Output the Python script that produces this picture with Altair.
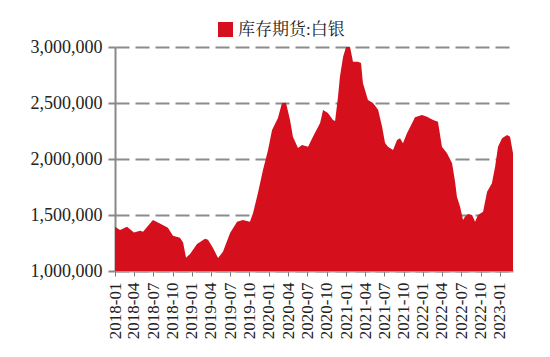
import altair as alt
import pandas as pd

dates = [
    "2018-01-01", "2018-01-25", "2018-02-27", "2018-04-01", "2018-04-30", "2018-05-14",
    "2018-06-30", "2018-08-02", "2018-09-09", "2018-10-03", "2018-11-05", "2018-11-20",
    "2018-12-04", "2018-12-23", "2019-01-25", "2019-03-04", "2019-03-18", "2019-04-11",
    "2019-05-05", "2019-05-28", "2019-07-01", "2019-08-03", "2019-08-31", "2019-10-03",
    "2019-10-18", "2019-11-10", "2019-12-04", "2019-12-28", "2020-01-16", "2020-02-13",
    "2020-03-03", "2020-03-22", "2020-04-10", "2020-04-24", "2020-05-18", "2020-06-06",
    "2020-07-05", "2020-07-28", "2020-08-31", "2020-09-14", "2020-10-07", "2020-10-31",
    "2020-11-10", "2020-11-24", "2020-12-03", "2020-12-18", "2021-01-01", "2021-01-20",
    "2021-02-03", "2021-02-27", "2021-03-13", "2021-03-22", "2021-04-15", "2021-05-09",
    "2021-06-02", "2021-06-21", "2021-07-05", "2021-07-19", "2021-08-12", "2021-08-31",
    "2021-09-14", "2021-09-28", "2021-10-17", "2021-11-10", "2021-11-24", "2021-12-27",
    "2022-01-20", "2022-02-18", "2022-03-13", "2022-04-01", "2022-04-25", "2022-05-19",
    "2022-06-02", "2022-06-11", "2022-06-26", "2022-07-10", "2022-07-19", "2022-08-03",
    "2022-08-22", "2022-09-05", "2022-09-19", "2022-10-13", "2022-11-01", "2022-11-24",
    "2022-12-09", "2022-12-23", "2023-01-11", "2023-02-04", "2023-02-18", "2023-03-04",
]
values = [
    1395000, 1365000, 1395000, 1344000, 1359000, 1350000,
    1455000, 1424000, 1386000, 1314000, 1296000, 1254000,
    1119000, 1152000, 1242000, 1287000, 1280000, 1205000,
    1116000, 1172000, 1339000, 1440000, 1455000, 1440000,
    1518000, 1697000, 1902000, 2080000, 2259000, 2366000,
    2500000, 2503000, 2350000, 2199000, 2098000, 2125000,
    2110000, 2199000, 2322000, 2438000, 2411000, 2348000,
    2340000, 2557000, 2735000, 2914000, 3000000, 3000000,
    2869000, 2869000, 2857000, 2679000, 2527000, 2500000,
    2440000, 2289000, 2143000, 2110000, 2080000, 2170000,
    2185000, 2140000, 2230000, 2319000, 2372000, 2393000,
    2378000, 2348000, 2333000, 2110000, 2051000, 1962000,
    1800000, 1663000, 1574000, 1455000, 1485000, 1509000,
    1500000, 1440000, 1500000, 1530000, 1708000, 1783000,
    1931000, 2110000, 2185000, 2215000, 2199000, 2051000,
]
series_name = "库存期货:白银"
tick_labels = [
    "2018-01", "2018-04", "2018-07", "2018-10", "2019-01", "2019-04", "2019-07",
    "2019-10", "2020-01", "2020-04", "2020-07", "2020-10", "2021-01", "2021-04",
    "2021-07", "2021-10", "2022-01", "2022-04", "2022-07", "2022-10", "2023-01",
]
y_ticks = [1000000, 1500000, 2000000, 2500000, 3000000]

df = pd.DataFrame({"date": dates, "value": values, "series": series_name})

RED = "#D50F1C"
FONT = "Liberation Serif, Noto Serif CJK SC, Noto Sans CJK SC"

x_vals = [alt.DateTime(year=int(s[:4]), month=int(s[5:]), date=1) for s in tick_labels]

chart = alt.Chart(df).mark_area(clip=True, interpolate="linear", opacity=1).encode(
    x=alt.X(
        "date:T",
        scale=alt.Scale(domain=[alt.DateTime(year=2018, month=1, date=1),
                                alt.DateTime(year=2023, month=3, date=4)]),
        axis=alt.Axis(
            values=x_vals, format="%Y-%m", labelAngle=-90, title=None,
            labelFont=FONT, labelFontSize=17, labelColor="#222",
            tickSize=5, tickColor="#777", domainColor="#999", domainWidth=2,
            labelPadding=6, grid=False, labelOverlap=False, labelFlush=False,
        ),
    ),
    y=alt.Y(
        "value:Q",
        scale=alt.Scale(domain=[1000000, 3000000], zero=False, nice=False),
        axis=alt.Axis(
            values=y_ticks, format=",d", title=None,
            labelFont=FONT, labelFontSize=18, labelColor="#222",
            tickSize=7, tickColor="#888", tickWidth=2,
            domainColor="#888", domainWidth=2, labelPadding=6,
            grid=True, gridColor="#8c8c8c", gridWidth=2, gridDash=[14, 6],
        ),
    ),
    y2=alt.datum(1000000),
    color=alt.Color(
        "series:N",
        scale=alt.Scale(range=[RED]),
        legend=alt.Legend(
            orient="none", legendX=102, legendY=-26, title=None,
            symbolType="square", symbolSize=225, symbolStrokeWidth=0,
            labelFont=FONT, labelFontSize=17, labelColor="#222", padding=0,
        ),
    ),
).properties(
    width=398,
    height=224,
    autosize=alt.AutoSizeParams(type="none"),
    padding={"left": 107, "top": 39, "right": 29, "bottom": 78},
).configure_view(stroke=None)

chart.save("out.html", embed_options={"renderer": "svg", "actions": False})
